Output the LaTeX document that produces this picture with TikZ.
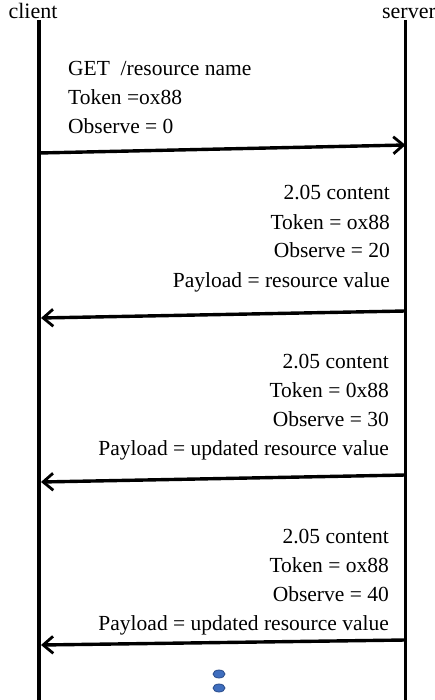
\documentclass[tikz,border=0pt]{standalone}
\usepackage{fontspec}
\setmainfont{Liberation Serif}
\usetikzlibrary{arrows.meta,shapes.geometric}
\definecolor{dotfill}{HTML}{3F6EBE}
\definecolor{dotedge}{HTML}{2A4C8A}
\begin{document}
\begin{tikzpicture}[x=1pt,y=-1pt,
  lifeline/.style={line width=3.2pt},
  msg/.style={line width=3.4pt,-{Straight Barb[length=10pt,width=17pt,line width=2.8pt]}},
  actor/.style={inner sep=0pt,font=\fontsize{22}{24}\selectfont},
  msgtext/.style={inner sep=0pt,font=\fontsize{21.5}{29}\selectfont},
  dot/.style={ellipse,draw=dotedge,fill=dotfill,line width=0.8pt,minimum width=12pt,minimum height=8pt,inner sep=0pt}]
\useasboundingbox (0,0) rectangle (435,700);
% participants
\node[actor,anchor=base] (client) at (33,19) {client};
\node[actor,anchor=base] (server) at (409,19) {server};
\coordinate (ctop) at (39,20);
\coordinate (cbot) at (39,700);
\coordinate (stop) at (405.5,20);
\coordinate (sbot) at (405.5,700);
\draw[lifeline] (ctop) -- (cbot);
\draw[lifeline] (stop) -- (sbot);
% request
\coordinate (r1a) at (39,153);
\coordinate (r1b) at (405.5,145);
\draw[msg] (r1a) -- (r1b);
\node[msgtext,anchor=base west,align=left] (t1) at (68,134) {GET\ \ /resource name\\Token =ox88\\Observe = 0};
% notification 1
\coordinate (r2a) at (405.5,311);
\coordinate (r2b) at (41,318);
\draw[msg] (r2a) -- (r2b);
\node[msgtext,anchor=base east,align=right] (t2) at (390,287) {2.05 content\\Token = ox88\\Observe = 20\\Payload = resource value};
% notification 2
\coordinate (r3a) at (405.5,475);
\coordinate (r3b) at (41,482);
\draw[msg] (r3a) -- (r3b);
\node[msgtext,anchor=base east,align=right] (t3) at (389,455) {2.05 content\\Token = 0x88\\Observe = 30\\Payload = updated resource value};
% notification 3
\coordinate (r4a) at (405.5,640);
\coordinate (r4b) at (41,645);
\draw[msg] (r4a) -- (r4b);
\node[msgtext,anchor=base east,align=right] (t4) at (389,630) {2.05 content\\Token = ox88\\Observe = 40\\Payload = updated resource value};
% continuation marks
\node[dot] (d1) at (219,674) {};
\node[dot] (d2) at (219,688) {};
\end{tikzpicture}
\end{document}
